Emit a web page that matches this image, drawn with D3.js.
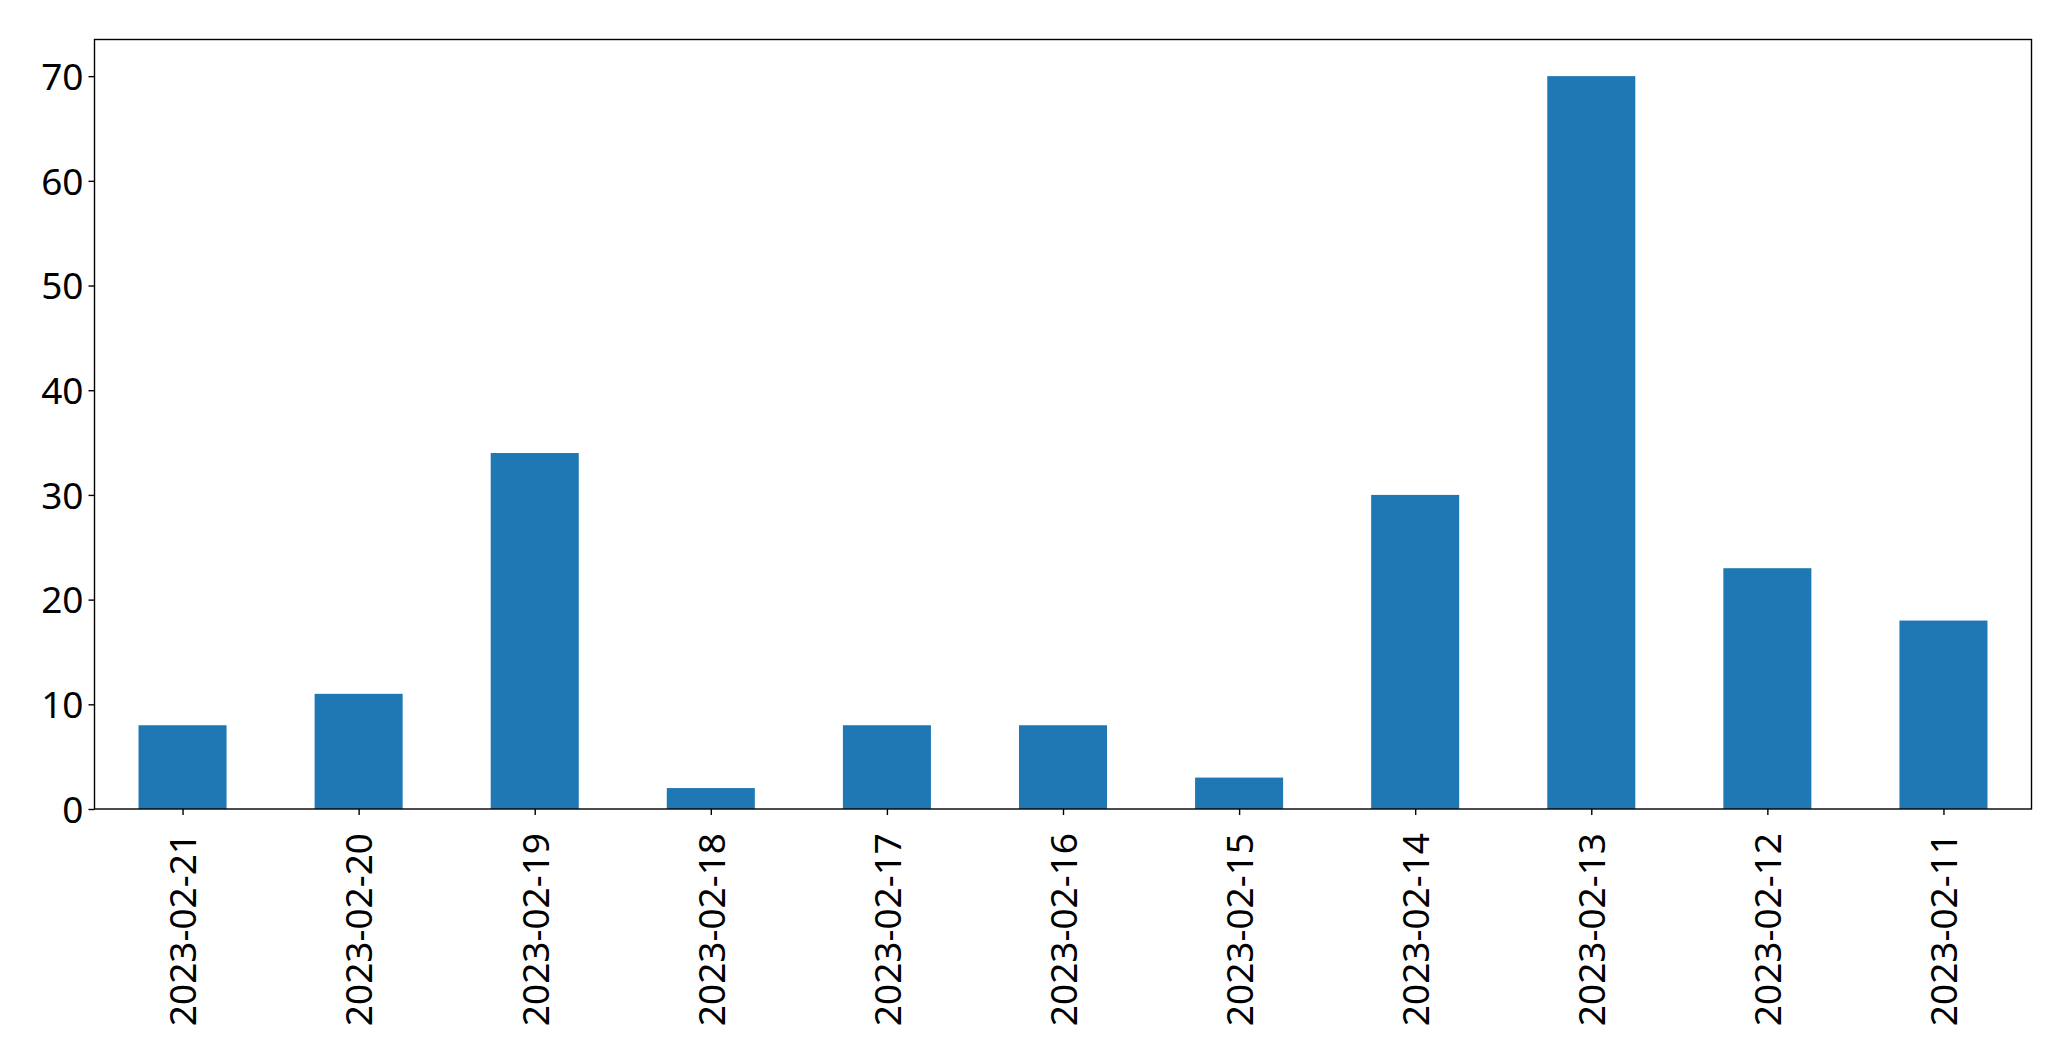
<!DOCTYPE html>
<html>
<head>
<meta charset="utf-8">
<script src="https://cdn.jsdelivr.net/npm/d3@7"></script>
<style>
  html, body { margin: 0; padding: 0; background: #fff; }
  svg { display: block; }
</style>
</head>
<body>
<script>
const categories = ["2023-02-21","2023-02-20","2023-02-19","2023-02-18","2023-02-17","2023-02-16","2023-02-15","2023-02-14","2023-02-13","2023-02-12","2023-02-11"];
const values = [8, 11, 34, 2, 8, 8, 3, 30, 70, 23, 18];
const yTicks = [0, 10, 20, 30, 40, 50, 60, 70];

const W = 2071, H = 1061;
const m = { left: 94.5, right: 2031.5, top: 39.5, bottom: 809 };
const fontSize = 37;
const fontFamily = "'Noto Sans', 'Open Sans', sans-serif";

const svg = d3.select("body").append("svg").attr("width", W).attr("height", H);

const x = d3.scaleLinear().domain([-0.5, categories.length - 0.5]).range([m.left, m.right]);
const y = d3.scaleLinear().domain([0, d3.max(values) * 1.05]).range([m.bottom, m.top]);
const barW = x(0.5) - x(0);

svg.append("g").selectAll("rect").data(values).join("rect")
  .attr("x", (d, i) => x(i) - barW / 2)
  .attr("width", barW)
  .attr("y", d => y(d))
  .attr("height", d => y(0) - y(d))
  .attr("fill", "#1f77b4");

// frame
svg.append("rect")
  .attr("x", m.left).attr("y", m.top)
  .attr("width", m.right - m.left).attr("height", m.bottom - m.top)
  .attr("fill", "none").attr("stroke", "#000").attr("stroke-width", 1.4);

// y axis
const yAxis = d3.axisLeft(y).tickValues(yTicks).tickSize(6).tickPadding(5).tickFormat(d3.format("d"));
const gy = svg.append("g").attr("transform", `translate(${m.left},0)`).call(yAxis);
gy.select(".domain").remove();
gy.selectAll(".tick line").attr("stroke", "#000").attr("stroke-width", 1.4);
gy.selectAll(".tick text").attr("font-family", fontFamily).attr("font-size", fontSize).attr("fill", "#000").attr("dy", "0.36em");

// x axis
const xAxis = d3.axisBottom(x).tickValues(d3.range(categories.length)).tickSize(6).tickFormat(i => categories[i]);
const gx = svg.append("g").attr("transform", `translate(0,${m.bottom})`).call(xAxis);
gx.select(".domain").remove();
gx.selectAll(".tick line").attr("stroke", "#000").attr("stroke-width", 1.4);
gx.selectAll(".tick text")
  .attr("font-family", fontFamily).attr("font-size", fontSize).attr("fill", "#000")
  .attr("transform", "rotate(-90)")
  .attr("text-anchor", "end")
  .attr("x", -24).attr("y", 0).attr("dy", "0.36em");
</script>
</body>
</html>
